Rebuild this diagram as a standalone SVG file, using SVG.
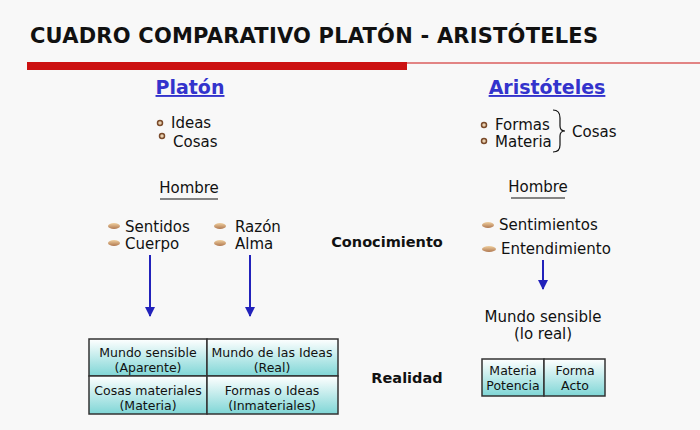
<svg xmlns="http://www.w3.org/2000/svg" width="700" height="430" viewBox="0 0 700 430">
<defs>
<linearGradient id="cg" x1="0" y1="0" x2="0" y2="1"><stop offset="0" stop-color="#ffffff"/><stop offset="1" stop-color="#7fd6d6"/></linearGradient>
<linearGradient id="bl" x1="0" y1="0" x2="0" y2="1"><stop offset="0" stop-color="#f0d0a0"/><stop offset="1" stop-color="#b07850"/></linearGradient>
<marker id="ah" viewBox="0 0 10 10" refX="9" refY="5" markerWidth="5" markerHeight="5" orient="auto"><path d="M0,0L10,5L0,10Z" fill="#2222bb"/></marker>
</defs>
<style>
text{font-family:"DejaVu Sans",Verdana,sans-serif;fill:#111}
.t{font-size:15px}
.c{font-size:12.5px;text-anchor:middle}
.h{font-size:19px;font-weight:bold;fill:#3333cc;text-anchor:middle;text-decoration:underline}
.b{font-size:14.5px;font-weight:bold}
.cell{fill:url(#cg);stroke:#333;stroke-width:1.5}
.arr{stroke:#2222bb;stroke-width:2;fill:none;marker-end:url(#ah)}
.dot{fill:#e8d0b0;stroke:#7a4a2a;stroke-width:1.5}
.ov{fill:url(#bl)}
</style>
<rect width="700" height="430" fill="#f8f8f8"/>
<g id="title">
<text x="30" y="43" style="font-size:21px;font-weight:bold" textLength="568">CUADRO COMPARATIVO PLATÓN - ARISTÓTELES</text>
<rect x="27" y="62" width="380" height="8" fill="#cc1111"/>
<line x1="407" y1="63" x2="700" y2="63" stroke="#cc1111" stroke-width="1"/>
</g>
<g id="platon">
<text x="190" y="94" class="h">Platón</text>
<circle cx="160" cy="123" r="2.5" class="dot"/><circle cx="162" cy="136" r="2.5" class="dot"/>
<text x="171" y="128" class="t">Ideas</text><text x="173" y="147" class="t">Cosas</text>
<text x="189" y="193" class="t" text-anchor="middle">Hombre</text>
<line x1="160" y1="199" x2="218" y2="199" stroke="#111"/>
<ellipse cx="114" cy="226" rx="6" ry="3" class="ov"/><ellipse cx="114" cy="243" rx="6" ry="3" class="ov"/>
<text x="125" y="232" class="t">Sentidos</text><text x="125" y="249" class="t">Cuerpo</text>
<ellipse cx="220" cy="226" rx="6" ry="3" class="ov"/><ellipse cx="220" cy="243" rx="6" ry="3" class="ov"/>
<text x="235" y="232" class="t">Razón</text><text x="235" y="249" class="t">Alma</text>
</g>
<g id="tabla1">
<rect x="89" y="339" width="118" height="37" class="cell"/><rect x="207" y="339" width="131" height="37" class="cell"/>
<rect x="89" y="376" width="118" height="38" class="cell"/><rect x="207" y="376" width="131" height="38" class="cell"/>
<text x="148" y="357" class="c">Mundo sensible</text><text x="148" y="372" class="c">(Aparente)</text>
<text x="272" y="357" class="c">Mundo de las Ideas</text><text x="272" y="372" class="c">(Real)</text>
<text x="148" y="395" class="c">Cosas materiales</text><text x="148" y="410" class="c">(Materia)</text>
<text x="272" y="395" class="c">Formas o Ideas</text><text x="272" y="410" class="c">(Inmateriales)</text>
</g>
<g id="labels">
<text x="387" y="247" class="b" text-anchor="middle">Conocimiento</text>
<text x="407" y="383" class="b" text-anchor="middle">Realidad</text>
</g>
<g id="aristoteles">
<text x="547" y="94" class="h">Aristóteles</text>
<circle cx="484" cy="125" r="2.5" class="dot"/><circle cx="484" cy="141" r="2.5" class="dot"/>
<text x="495" y="130" class="t">Formas</text><text x="495" y="147" class="t">Materia</text>
<path d="M553,110 Q560,110 560,118 L560,126 Q560,131 565,131 Q560,131 560,136 L560,145 Q560,152 553,152" fill="none" stroke="#111" stroke-width="1.2"/>
<text x="572" y="137" class="t">Cosas</text>
<text x="538" y="192" class="t" text-anchor="middle">Hombre</text>
<line x1="511" y1="198" x2="565" y2="198" stroke="#111"/>
<ellipse cx="488" cy="225" rx="6" ry="3" class="ov"/><ellipse cx="489" cy="249" rx="7" ry="3" class="ov"/>
<text x="499" y="230" class="t">Sentimientos</text><text x="501" y="254" class="t">Entendimiento</text>
<text x="543" y="322" class="t" text-anchor="middle">Mundo sensible</text>
<text x="543" y="339" class="t" text-anchor="middle">(lo real)</text>
</g>
<g id="tabla2">
<rect x="482" y="359" width="62" height="37" class="cell"/><rect x="544" y="359" width="61" height="37" class="cell"/>
<text x="513" y="375" class="c">Materia</text><text x="513" y="390" class="c">Potencia</text>
<text x="575" y="375" class="c">Forma</text><text x="575" y="390" class="c">Acto</text>
</g>
<g id="connectors">
<line x1="150" y1="255" x2="150" y2="316" class="arr"/>
<line x1="250" y1="255" x2="250" y2="316" class="arr"/>
<line x1="543" y1="260" x2="543" y2="289" class="arr"/>
</g>
</svg>
